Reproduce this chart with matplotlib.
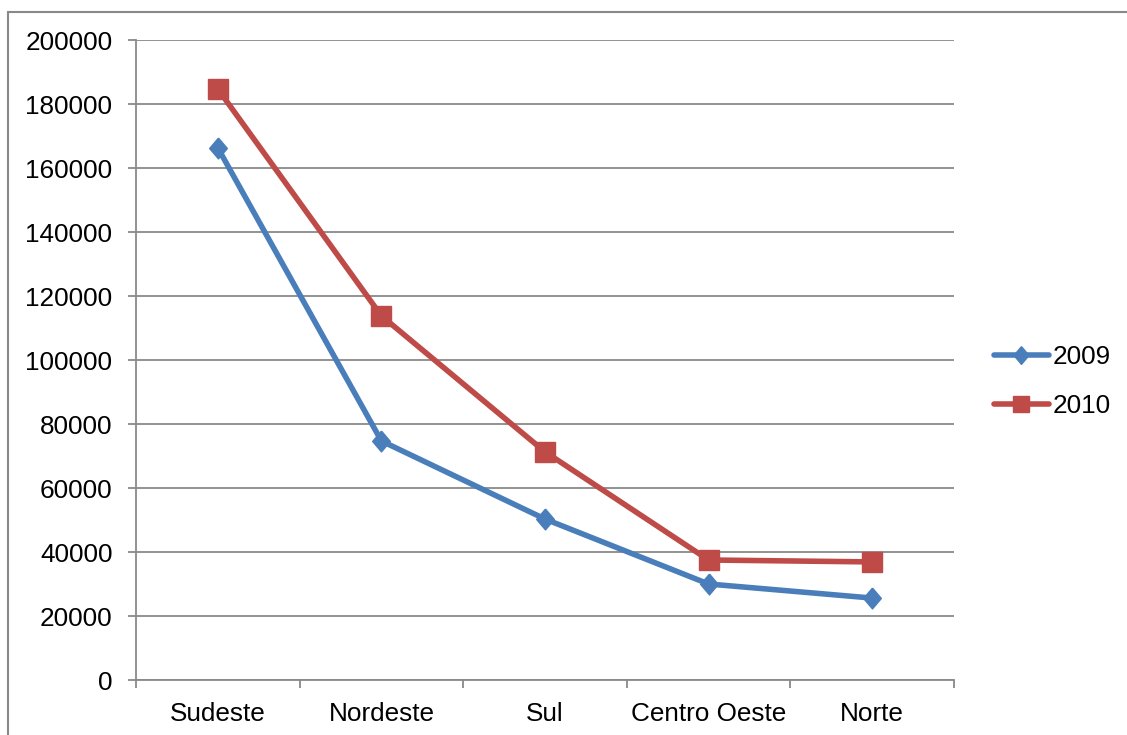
import numpy as np
import matplotlib
import matplotlib.pyplot as plt
from matplotlib.patches import Rectangle
from matplotlib.ticker import FixedLocator, NullFormatter, FixedFormatter
matplotlib.use('Agg')

regions = ['Sudeste', 'Nordeste', 'Sul', 'Centro Oeste', 'Norte']
values_2009 = [166300, 74700, 50300, 30000, 25600]
values_2010 = [184700, 113800, 71300, 37500, 36900]
y_ticks = [0, 20000, 40000, 60000, 80000, 100000, 120000, 140000, 160000, 180000, 200000]

plt.rcParams['font.family'] = ['Liberation Sans', 'DejaVu Sans']

grey = '#898989'
blue = '#4A7EBB'
red = '#BE4B48'
fs = 18.8

fig = plt.figure(figsize=(11.27, 7.35), dpi=100)

# outer chart frame
fig.patches.append(Rectangle((8 / 1127, -0.1), 1.2, (735 - 12) / 735 + 0.1,
                             transform=fig.transFigure, fill=False,
                             edgecolor=grey, linewidth=1.5))

ax = fig.add_axes([136 / 1127, 55 / 735, (954 - 136) / 1127, (680 - 40) / 735])

diamond = [(0, 1), (0.85, 0), (0, -1), (-0.85, 0), (0, 1)]
x = np.arange(len(regions))
ax.plot(x, values_2009, color=blue, linewidth=4, marker=diamond, markersize=15,
        label='2009', solid_joinstyle='round', solid_capstyle='round')
ax.plot(x, values_2010, color=red, linewidth=4, marker='s', markersize=14,
        label='2010', solid_joinstyle='round', solid_capstyle='round')

ax.set_xlim(-0.5, len(regions) - 0.5)
ax.set_ylim(0, 200000)
ax.set_yticks(y_ticks)
ax.set_yticklabels([str(v) for v in y_ticks])

# boundary ticks between categories, labels at the centres
ax.xaxis.set_major_locator(FixedLocator(np.arange(-0.5, len(regions), 1.0)))
ax.xaxis.set_major_formatter(NullFormatter())
ax.xaxis.set_minor_locator(FixedLocator(x))
ax.xaxis.set_minor_formatter(FixedFormatter(regions))
ax.tick_params(axis='x', which='major', length=6, width=1.3, color=grey, direction='out')
ax.tick_params(axis='x', which='minor', length=0, pad=16, labelsize=fs)
ax.tick_params(axis='y', length=6, width=1.3, color=grey, direction='out', pad=11, labelsize=fs)

ax.grid(axis='y', color=grey, linewidth=1.3)
ax.set_axisbelow(True)
for side in ['top', 'right']:
    ax.spines[side].set_visible(False)
for side in ['left', 'bottom']:
    ax.spines[side].set_color(grey)
    ax.spines[side].set_linewidth(1.3)

leg = ax.legend(loc='center left', bbox_to_anchor=(1.02, 0.466), frameon=False,
                fontsize=fs, handlelength=2.1, handletextpad=0.15, labelspacing=0.95,
                markerscale=0.85)

plt.savefig('out.png', dpi=100)
plt.close()
